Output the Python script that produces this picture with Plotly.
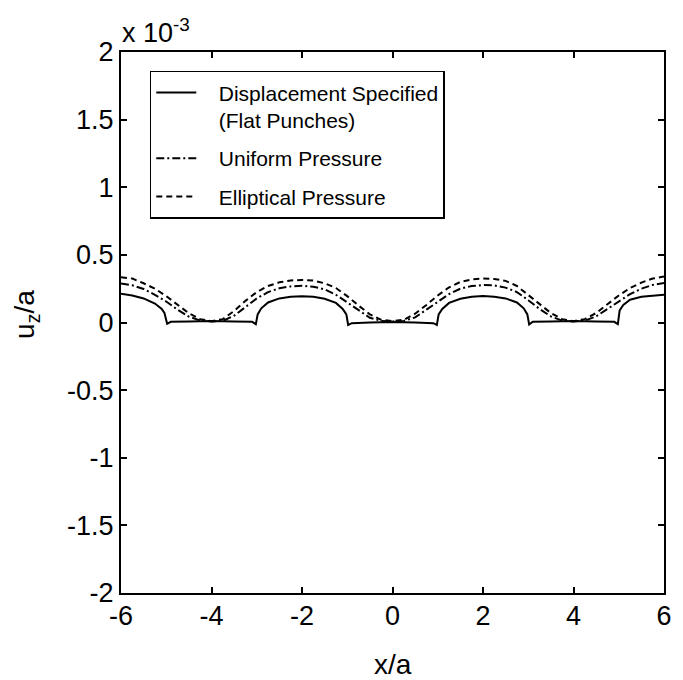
import plotly.graph_objects as go

# ---- data (u_z/a in units of 1e-3) ----
x_pressure = [-6.0, -5.75, -5.5, -5.25, -5.0, -4.75, -4.5, -4.25, -4.0, -3.75, -3.5, -3.25,
              -3.0, -2.75, -2.5, -2.25, -2.0, -1.75, -1.5, -1.25, -1.0, -0.75, -0.5, -0.25,
              0.0, 0.25, 0.5, 0.75, 1.0, 1.25, 1.5, 1.75, 2.0, 2.25, 2.5, 2.75,
              3.0, 3.25, 3.5, 3.75, 4.0, 4.25, 4.5, 4.75, 5.0, 5.25, 5.5, 5.75, 6.0]

uz_elliptical = [0.335, 0.325, 0.290, 0.250, 0.195, 0.130, 0.068, 0.025, 0.010, 0.025, 0.085, 0.160,
                 0.225, 0.270, 0.297, 0.311, 0.315, 0.310, 0.290, 0.255, 0.195, 0.125, 0.060, 0.020,
                 0.010, 0.020, 0.065, 0.130, 0.200, 0.260, 0.300, 0.318, 0.325, 0.322, 0.308, 0.270,
                 0.205, 0.135, 0.070, 0.025, 0.010, 0.025, 0.070, 0.135, 0.200, 0.255, 0.295, 0.325, 0.340]

uz_uniform = [0.288, 0.275, 0.248, 0.205, 0.155, 0.095, 0.043, 0.015, 0.008, 0.012, 0.050, 0.115,
              0.178, 0.225, 0.253, 0.267, 0.272, 0.265, 0.245, 0.205, 0.150, 0.090, 0.035, 0.012,
              0.008, 0.012, 0.038, 0.095, 0.155, 0.210, 0.250, 0.270, 0.277, 0.274, 0.258, 0.225,
              0.165, 0.100, 0.045, 0.014, 0.008, 0.014, 0.045, 0.100, 0.160, 0.210, 0.250, 0.278, 0.292]

x_punch = [-6.0, -5.75, -5.5, -5.25, -5.1, -5.04, -4.98, -4.9, -4.5, -4.0, -3.5, -3.1, -3.02,
           -2.98, -2.9, -2.75, -2.5, -2.25, -2.0, -1.75, -1.5, -1.25, -1.1, -1.02, -0.98, -0.9,
           -0.5, 0.0, 0.5, 0.9, 0.98, 1.02, 1.1, 1.25, 1.5, 1.75, 2.0, 2.25, 2.5, 2.75, 2.9,
           2.98, 3.02, 3.1, 3.5, 4.0, 4.5, 4.9, 4.98, 5.02, 5.1, 5.25, 5.5, 5.75, 6.0]
uz_punch = [0.212, 0.200, 0.178, 0.140, 0.100, 0.070, -0.010, 0.005, 0.008, 0.012, 0.008, 0.005, -0.012,
            0.060, 0.105, 0.148, 0.178, 0.190, 0.194, 0.190, 0.176, 0.145, 0.100, 0.060, -0.018, -0.005,
            0.000, 0.003, 0.000, -0.005, -0.018, 0.060, 0.100, 0.145, 0.176, 0.190, 0.196, 0.190, 0.178, 0.148, 0.105,
            0.060, -0.015, 0.005, 0.008, 0.012, 0.008, 0.005, -0.012, 0.090, 0.130, 0.168, 0.190, 0.200, 0.205]

x_tickvals = [-6, -4, -2, 0, 2, 4, 6]
x_ticktext = ["-6", "-4", "-2", "0", "2", "4", "6"]
y_tickvals = [-2, -1.5, -1, -0.5, 0, 0.5, 1, 1.5, 2]
y_ticktext = ["-2", "-1.5", "-1", "-0.5", "0", "0.5", "1", "1.5", "2"]

series_names = ["Displacement Specified<br>(Flat Punches)", "Uniform Pressure", "Elliptical Pressure"]
x_title = "x/a"
y_title = "u<sub>z</sub>/a"
y_exponent = "x 10<sup>-3</sup>"

FONT = "Liberation Sans, Arial, Helvetica, sans-serif"
PAD = "\u00a0\u00a0\u00a0"


def pad_name(name):
    return "<br>".join(PAD + part for part in name.split("<br>"))


fig = go.Figure()
fig.add_trace(go.Scatter(x=x_punch, y=uz_punch, mode="lines",
                         name=pad_name(series_names[0]), legendgroup="g1",
                         line=dict(color="black", width=2, dash="solid")))
fig.add_trace(go.Scatter(x=x_pressure, y=uz_uniform, mode="lines",
                         name=pad_name(series_names[1]), legendgroup="g2",
                         line=dict(color="black", width=2, dash="8px,3px,2px,3px")))
fig.add_trace(go.Scatter(x=x_pressure, y=uz_elliptical, mode="lines",
                         name=pad_name(series_names[2]), legendgroup="g3",
                         line=dict(color="black", width=2, dash="6px,4px")))

axis_common = dict(showline=True, linecolor="black", linewidth=2, mirror="ticks",
                   ticks="inside", ticklen=6, tickwidth=1.5, tickcolor="black",
                   showgrid=False, zeroline=False, automargin=False,
                   tickfont=dict(family=FONT, size=27, color="black"))

# page body has an 8px margin, so the figure is 8px smaller than the window
fig.update_layout(
    width=675, height=672,
    margin=dict(l=113, r=19, t=44, b=87),
    paper_bgcolor="white", plot_bgcolor="white",
    font=dict(family=FONT, color="black"),
    xaxis=dict(range=[-6, 6], tickvals=x_tickvals, ticktext=x_ticktext, ticklabelstandoff=-2,
               **axis_common),
    yaxis=dict(range=[-2, 2], tickvals=y_tickvals, ticktext=y_ticktext,
               **axis_common),
    legend=dict(x=0.053, y=0.965, xanchor="left", yanchor="top", valign="top",
                bgcolor="white", bordercolor="black", borderwidth=1.5,
                font=dict(family=FONT, size=21, color="black"),
                itemwidth=40, tracegroupgap=8),
    showlegend=True,
    annotations=[
        dict(text=y_exponent, xref="paper", yref="paper",
             x=-0.002, y=1.0, xanchor="left", yanchor="bottom", yshift=2,
             showarrow=False, font=dict(family=FONT, size=27, color="black")),
        dict(text=x_title, xref="paper", yref="paper",
             x=0.5, y=0.0, xanchor="center", yanchor="middle", yshift=-71,
             showarrow=False, font=dict(family=FONT, size=28, color="black")),
        dict(text=y_title, xref="paper", yref="paper", textangle=-90,
             x=0.0, y=0.514, xanchor="center", yanchor="middle", xshift=-94,
             showarrow=False, font=dict(family=FONT, size=28, color="black")),
    ],
)

fig.write_html("out.html")
